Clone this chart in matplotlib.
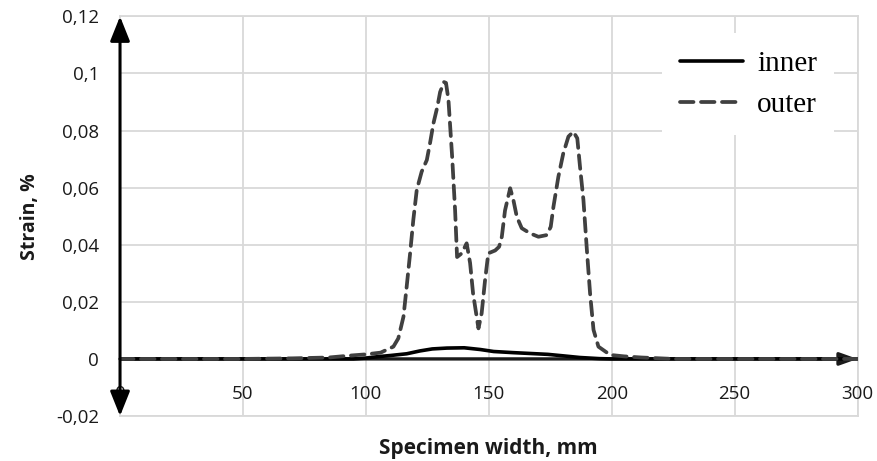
import numpy as np
import matplotlib.pyplot as plt

# Strain across the specimen width
outer_x = [0, 50, 70, 85, 94, 100, 106, 111.2, 113.2, 115.3, 116.6, 118, 119.3, 120.7,
           122.7, 124.8, 126.1, 127.5, 129.1, 130.2, 131.8, 132.6, 133.6, 135.1, 136.3,
           137.1, 139, 141, 142.4, 143.6, 145.8, 147.1, 148.5, 149.8, 152.6, 154.2, 155.3,
           156.6, 158.7, 160, 161.4, 163.4, 166.8, 170.2, 173.6, 175.2, 176.3, 178.3, 180.3,
           182.4, 184.4, 186, 187.1, 188.5, 189.9, 191.2, 192.6, 194.6, 199.4, 205, 212, 225, 300]
outer_y = [0, 0, 0.0002, 0.0005, 0.0012, 0.0016, 0.0022, 0.0043, 0.0072, 0.0148, 0.0253,
           0.037, 0.0487, 0.0592, 0.0656, 0.0697, 0.0756, 0.0826, 0.0884, 0.0935, 0.097,
           0.0967, 0.0907, 0.0708, 0.052, 0.0357, 0.037, 0.0405, 0.0336, 0.023, 0.0107,
           0.016, 0.0277, 0.037, 0.038, 0.0393, 0.0428, 0.052, 0.0598, 0.0557, 0.0498,
           0.0458, 0.044, 0.0428, 0.0434, 0.0463, 0.0533, 0.0638, 0.072, 0.0779, 0.0796,
           0.0773, 0.0674, 0.0557, 0.0382, 0.023, 0.0102, 0.0043, 0.0014, 0.0009, 0.0005, 0, 0]

inner_x = [0, 95, 100, 105, 110, 116.6, 122, 127, 133, 140, 146.5, 152, 160, 167, 174,
           180, 187, 195, 200, 300]
inner_y = [0, 0, 0.0003, 0.0008, 0.0012, 0.0018, 0.0028, 0.0035, 0.0038, 0.0039, 0.0033,
           0.0026, 0.0022, 0.0019, 0.0016, 0.0011, 0.0005, 0.0001, 0, 0]

xticks = [0, 50, 100, 150, 200, 250, 300]
yticks = [-0.02, 0, 0.02, 0.04, 0.06, 0.08, 0.1, 0.12]
ytick_labels = ['-0,02', '0', '0,02', '0,04', '0,06', '0,08', '0,1', '0,12']

plt.rcParams['font.family'] = ['Open Sans', 'DejaVu Sans']

fig = plt.figure(figsize=(8.78, 4.61), dpi=100)
ax = fig.add_axes([0.1367, 0.0976, 0.840, 0.8668])

grid_c = '#d9d9d9'
txt_c = '#1a1a1a'
ax.set_xlim(0, 300)
ax.set_ylim(-0.02, 0.12)
ax.set_xticks(xticks)
ax.set_yticks(yticks)
ax.set_yticklabels(ytick_labels)
ax.set_xticklabels([])
ax.grid(True, color=grid_c, lw=1.3)
ax.set_axisbelow(True)
ax.tick_params(length=0, labelsize=13.5, pad=15, colors=txt_c)
for s in ax.spines.values():
    s.set_color(grid_c)
    s.set_linewidth(1.3)

# x tick labels sit just below the zero line (Excel style)
for xv in xticks:
    ax.annotate(str(xv), (xv, 0), xytext=(0, -25), textcoords='offset points',
                ha='center', va='center', fontsize=13.5, color=txt_c,
                annotation_clip=False)

# axis arrows
ax.annotate('', xy=(0, 0.12), xytext=(0, -0.02),
            arrowprops=dict(arrowstyle='<|-|>,head_length=0.75,head_width=0.3',
                            color='black', lw=2.2, mutation_scale=20,
                            shrinkA=0, shrinkB=0),
            annotation_clip=False, zorder=5)
ax.annotate('', xy=(300, 0), xytext=(0, 0),
            arrowprops=dict(arrowstyle='-|>,head_length=0.7,head_width=0.25',
                            color='#1a1a1a', lw=2.4, mutation_scale=15,
                            shrinkA=0, shrinkB=0),
            annotation_clip=False, zorder=1.5)

ax.plot(inner_x, inner_y, color='black', lw=2.6, label='inner',
        solid_capstyle='round', zorder=3)
ax.plot(outer_x, outer_y, color='#404040', lw=2.7, dashes=(3.6, 2.0),
        dash_capstyle='round', label='outer', zorder=3)

ax.set_ylabel('Strain, %', fontsize=14, fontweight='bold', labelpad=12, color=txt_c)
fig.text(0.556, 0.027, 'Specimen width, mm', fontsize=15, fontweight='bold',
         ha='center', va='center', color=txt_c)

leg = ax.legend(loc='upper right', bbox_to_anchor=(0.9885, 0.9955),
                prop=dict(family='Liberation Serif', size=21),
                frameon=True, fancybox=False, framealpha=1, facecolor='white',
                edgecolor='none', handlelength=2.16, handletextpad=0.5,
                labelspacing=0.5, borderpad=0.6)

fig.savefig('out.png', dpi=100)
